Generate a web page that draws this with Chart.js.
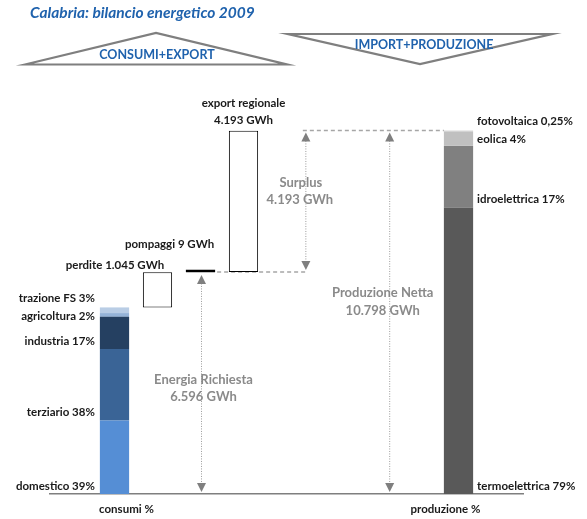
<!DOCTYPE html>
<html>
<head>
<meta charset="utf-8">
<script src="https://cdn.jsdelivr.net/npm/chart.js@4/dist/chart.umd.min.js"></script>
<style>
  html, body { margin: 0; padding: 0; background: #ffffff; }
  #wrap { width: 587px; height: 519px; position: relative; }
</style>
</head>
<body>
<div id="wrap"><canvas id="c" width="587" height="519"></canvas></div>
<script>
// Calabria 2009 energy balance (GWh)
const categories = ['', 'consumi %', '', '', '', '', '', '', '', 'produzione %', ''];

const energiaRichiesta = 6596;
const perdite = 1045;
const pompaggi = 9;
const exportRegionale = 4193;
const produzioneNetta = 10798;

const consumiLabels = ['domestico', 'terziario', 'industria', 'agricoltura', 'trazione FS'];
const consumiPct = [39, 38, 17, 2, 3];

const produzioneLabels = ['termoelettrica', 'idroelettrica', 'eolica', 'fotovoltaica'];
const produzionePct = [79, 17, 4, 0.25];

// styling
const consumiColors = ['#558ed5', '#3a6496', '#254061', '#95b3d7', '#b9cde5'];
const produzioneColors = ['#595959', '#808080', '#c0c0c0', '#d9d9d9'];
const FONT = 'Lato, "Liberation Sans", sans-serif';
const BLUE = '#1f62ad';
const GREY_TXT = '#8a8a8a';

const IDX_CONSUMI = 1, IDX_PERDITE = 2, IDX_POMPAGGI = 3, IDX_EXPORT = 4, IDX_PROD = 9;

const fmtGWh = n => String(n).replace(/\B(?=(\d{3})+(?!\d))/g, '.') + ' GWh';
const fmtPct = p => String(p).replace('.', ',') + '%';

function pointAt(idx, range) {
  const arr = categories.map(() => null);
  arr[idx] = range;
  return arr;
}

const datasets = [];
const consumiTotale = energiaRichiesta - perdite - pompaggi;
const sumC = consumiPct.reduce((a, b) => a + b, 0);
let acc = 0;
consumiPct.forEach((p, i) => {
  const v = consumiTotale * p / sumC;
  datasets.push({
    label: consumiLabels[i], data: pointAt(IDX_CONSUMI, [acc, acc + v]),
    backgroundColor: consumiColors[i], borderWidth: 0,
    segLabel: consumiLabels[i] + ' ' + fmtPct(p), side: 'left'
  });
  acc += v;
});
datasets.push({
  label: 'perdite', data: pointAt(IDX_PERDITE, [consumiTotale, consumiTotale + perdite]),
  backgroundColor: '#ffffff', borderColor: '#000000', borderWidth: 1, borderSkipped: false
});
datasets.push({
  label: 'pompaggi', data: pointAt(IDX_POMPAGGI, [energiaRichiesta - pompaggi, energiaRichiesta]),
  backgroundColor: '#000000', borderWidth: 0, minBarLength: 2.5
});
datasets.push({
  label: 'export regionale', data: pointAt(IDX_EXPORT, [energiaRichiesta, energiaRichiesta + exportRegionale]),
  backgroundColor: '#ffffff', borderColor: '#000000', borderWidth: 1, borderSkipped: false
});
const sumP = produzionePct.reduce((a, b) => a + b, 0);
acc = 0;
produzionePct.forEach((p, i) => {
  const v = produzioneNetta * p / sumP;
  datasets.push({
    label: produzioneLabels[i], data: pointAt(IDX_PROD, [acc, acc + v]),
    backgroundColor: produzioneColors[i], borderWidth: 0,
    segLabel: produzioneLabels[i] + ' ' + fmtPct(p), side: 'right'
  });
  acc += v;
});

// spread overlapping labels apart symmetrically
function spread(items, gap) {
  items.sort((a, b) => a.y - b.y);
  for (let it = 0; it < 30; it++) {
    let moved = false;
    for (let i = 0; i < items.length - 1; i++) {
      const d = items[i + 1].y - items[i].y;
      if (d < gap - 0.01) {
        const m = (items[i + 1].y + items[i].y) / 2;
        items[i].y = m - gap / 2; items[i + 1].y = m + gap / 2; moved = true;
      }
    }
    if (!moved) break;
  }
}

function arrowHead(ctx, x, y, dir) {
  // dir = -1 points up (tip at y), +1 points down
  ctx.beginPath();
  ctx.moveTo(x, y);
  ctx.lineTo(x - 4.5, y - dir * 9);
  ctx.lineTo(x + 4.5, y - dir * 9);
  ctx.closePath();
  ctx.fill();
}

function dottedArrow(ctx, x, yTop, yBot) {
  ctx.save();
  ctx.strokeStyle = '#9a9a9a';
  ctx.lineWidth = 1;
  ctx.setLineDash([1, 1.5]);
  ctx.beginPath();
  ctx.moveTo(x, yTop + 6); ctx.lineTo(x, yBot - 6);
  ctx.stroke();
  ctx.restore();
  ctx.fillStyle = '#7f7f7f';
  arrowHead(ctx, x, yTop, -1);
  arrowHead(ctx, x, yBot, 1);
}

function dashedLine(ctx, x1, x2, y) {
  ctx.save();
  ctx.strokeStyle = '#a6a6a6';
  ctx.lineWidth = 1.5;
  ctx.setLineDash([4, 3]);
  ctx.beginPath();
  ctx.moveTo(x1, y); ctx.lineTo(x2, y);
  ctx.stroke();
  ctx.restore();
}

const decorPlugin = {
  id: 'decor',
  beforeDatasetsDraw(chart) {
    const { ctx } = chart;
    const xs = chart.scales.x, ys = chart.scales.y;
    const yReq = ys.getPixelForValue(energiaRichiesta);
    const yProd = ys.getPixelForValue(produzioneNetta);
    const y0 = ys.getPixelForValue(0);
    const pomp = chart.getDatasetMeta(datasets.findIndex(d => d.label === 'pompaggi')).data[IDX_POMPAGGI];
    const prod = chart.getDatasetMeta(datasets.length - 1).data[IDX_PROD];
    const xSurplus = xs.getPixelForValue(5.45);
    const xNetta = xs.getPixelForValue(7.4);
    const xReq = xs.getPixelForValue(IDX_POMPAGGI) + 1;

    dashedLine(ctx, pomp.x + pomp.width / 2 + 2, xSurplus + 2, yReq);
    dashedLine(ctx, xSurplus - 3, prod.x - prod.width / 2, yProd);

    dottedArrow(ctx, xSurplus, yProd + 2, yReq - 2);
    dottedArrow(ctx, xNetta, yProd + 2, y0 - 2);
    dottedArrow(ctx, xReq, yReq + 3, y0 - 2);
  },
  afterDatasetsDraw(chart) {
    const { ctx } = chart;
    const xs = chart.scales.x, ys = chart.scales.y;
    ctx.save();
    ctx.textBaseline = 'middle';

    // segment labels beside the stacked bars
    const left = [], right = [];
    datasets.forEach((ds, i) => {
      if (!ds.segLabel) return;
      const idx = ds.side === 'left' ? IDX_CONSUMI : IDX_PROD;
      const el = chart.getDatasetMeta(i).data[idx];
      const item = { text: ds.segLabel, y: el.base - 8, x: ds.side === 'left' ? el.x - el.width / 2 - 5 : el.x + el.width / 2 + 4 };
      (ds.side === 'left' ? left : right).push(item);
    });
    spread(left, 18); spread(right, 18);
    ctx.fillStyle = '#1a1a1a';
    ctx.font = 'bold 11.5px ' + FONT;
    ctx.textAlign = 'right';
    left.forEach(it => ctx.fillText(it.text, it.x, it.y));
    ctx.textAlign = 'left';
    right.forEach(it => ctx.fillText(it.text, it.x, it.y));

    // labels of the waterfall bars
    const exp = chart.getDatasetMeta(datasets.findIndex(d => d.label === 'export regionale')).data[IDX_EXPORT];
    ctx.textAlign = 'center';
    ctx.fillText('export regionale', exp.x, exp.y - 27);
    ctx.fillText(fmtGWh(exportRegionale), exp.x, exp.y - 10);
    const pomp = chart.getDatasetMeta(datasets.findIndex(d => d.label === 'pompaggi')).data[IDX_POMPAGGI];
    ctx.textAlign = 'right';
    ctx.fillText('pompaggi ' + fmtGWh(pompaggi), pomp.x + pomp.width / 2 - 1, pomp.y - 25);
    const per = chart.getDatasetMeta(datasets.findIndex(d => d.label === 'perdite')).data[IDX_PERDITE];
    ctx.fillText('perdite ' + fmtGWh(perdite), per.x + per.width / 2 - 8, per.y - 7);

    // grey annotations of the arrows
    ctx.fillStyle = GREY_TXT;
    ctx.font = 'bold 13px ' + FONT;
    ctx.textAlign = 'center';
    const yReq = ys.getPixelForValue(energiaRichiesta);
    const yProd = ys.getPixelForValue(produzioneNetta);
    const y0 = ys.getPixelForValue(0);
    const xSurplus = xs.getPixelForValue(5.45);
    const xNetta = xs.getPixelForValue(7.4);
    const xReq = xs.getPixelForValue(IDX_POMPAGGI);
    let yc = (yReq + yProd) / 2 - 10;
    ctx.fillText('Surplus', xSurplus - 5, yc - 8.5);
    ctx.fillText(fmtGWh(produzioneNetta - energiaRichiesta - pompaggi), xSurplus - 6, yc + 8.5);
    yc = (yProd + y0) / 2 - 10;
    ctx.fillText('Produzione Netta', xNetta - 7, yc - 9);
    ctx.fillText(fmtGWh(produzioneNetta), xNetta - 7, yc + 9);
    yc = (yReq + y0) / 2 + 5.5;
    ctx.fillText('Energia Richiesta', xReq + 3, yc - 8.5);
    ctx.fillText(fmtGWh(energiaRichiesta), xReq + 3, yc + 8.5);

    // category captions under the axis
    ctx.fillStyle = '#1a1a1a';
    ctx.font = 'bold 11.5px ' + FONT;
    const nudge = { 1: 12, 9: -13 };
    categories.forEach((c, i) => {
      if (!c) return;
      ctx.fillText(c, xs.getPixelForValue(i) + (nudge[i] || 0), xs.bottom - 10);
    });

    // title
    ctx.textAlign = 'left';
    ctx.fillStyle = BLUE;
    ctx.font = 'italic bold 15.5px ' + FONT;
    ctx.fillText('Calabria: bilancio energetico 2009', 30, 13);

    // header triangles
    ctx.strokeStyle = '#7f7f7f';
    ctx.lineWidth = 2.2;
    ctx.lineJoin = 'miter';
    ctx.beginPath();
    ctx.moveTo(25, 64.5); ctx.lineTo(156, 33); ctx.lineTo(287, 64.5); ctx.closePath();
    ctx.stroke();
    ctx.beginPath();
    ctx.moveTo(288, 34); ctx.lineTo(552, 34); ctx.lineTo(420, 64); ctx.closePath();
    ctx.stroke();
    ctx.fillStyle = BLUE;
    ctx.font = 'bold 12.5px ' + FONT;
    ctx.textAlign = 'center';
    ctx.fillText('CONSUMI+EXPORT', 157, 55);
    ctx.fillText('IMPORT+PRODUZIONE', 424, 45);
    ctx.restore();
  }
};

new Chart(document.getElementById('c'), {
  type: 'bar',
  data: { labels: categories, datasets },
  options: {
    responsive: false,
    animation: false,
    events: [],
    layout: { padding: { left: 50, right: 64, top: 90, bottom: 0 } },
    datasets: { bar: { grouped: false, categoryPercentage: 1, barPercentage: 0.68 } },
    plugins: { legend: { display: false }, tooltip: { enabled: false } },
    scales: {
      x: {
        grid: { display: false },
        border: { color: '#7f7f7f', width: 1.5 },
        ticks: { display: false },
        afterFit(s) { s.height = 25; }
      },
      y: { display: false, min: 0, max: 12000 }
    }
  },
  plugins: [decorPlugin]
});
</script>
</body>
</html>
